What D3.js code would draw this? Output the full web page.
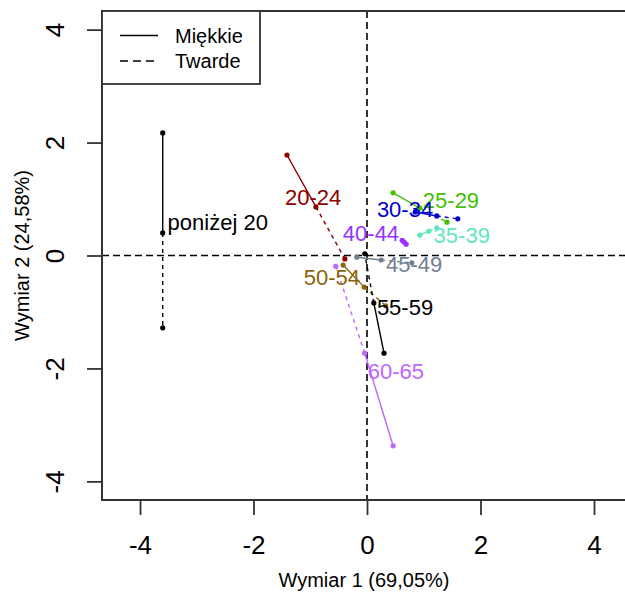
<!DOCTYPE html>
<html>
<head>
<meta charset="utf-8">
<script src="https://cdn.jsdelivr.net/npm/d3@7"></script>
<style>
  html, body { margin: 0; padding: 0; background: #fff; }
  svg { display: block; font-family: "Liberation Sans", Arial, sans-serif; }
</style>
</head>
<body>
<svg id="chart" width="625" height="594"></svg>
<script>
// ---- data ----
const groups = ["poniżej 20", "20-24", "25-29", "30-34", "35-39", "40-44", "45-49", "50-54", "55-59", "60-65"];
const colors = ["#000000", "#8B0000", "#44C000", "#0000CD", "#5EE8C0", "#9933FF", "#708090", "#8B6508", "#000000", "#C066FF"];
// central (labelled) point of each age group
const midX = [-3.60, -0.90, 0.93, 1.23, 1.09, 0.65, 0.25, -0.05, 0.12, -0.04];
const midY = [0.40, 0.86, 0.84, 0.70, 0.43, 0.24, -0.08, -0.56, -0.84, -1.73];
// "Miękkie" end (solid segment)
const miekX = [-3.60, -1.41, 0.46, 0.85, 0.93, 0.62, -0.18, -0.42, 0.30, 0.46];
const miekY = [2.17, 1.78, 1.11, 0.77, 0.36, 0.27, -0.03, -0.17, -1.73, -3.37];
// "Twarde" end (dashed segment)
const twardX = [-3.60, -0.39, 1.41, 1.60, 1.23, 0.69, 0.79, 0.33, -0.04, -0.55];
const twardY = [-1.28, -0.06, 0.59, 0.65, 0.49, 0.20, -0.13, -0.89, 0.03, -0.19];
// label centres
const labelX = [-2.63, -0.95, 1.48, 0.67, 1.67, 0.07, 0.83, -0.62, 0.67, 0.51];
const labelY = [0.59, 1.04, 0.98, 0.82, 0.36, 0.40, -0.15, -0.38, -0.91, -2.05];
const xTicks = [-4, -2, 0, 2, 4];
const yTicks = [-4, -2, 0, 2, 4];
const xTitle = "Wymiar 1 (69,05%)";
const yTitle = "Wymiar 2 (24,58%)";
const legendLabels = ["Miękkie", "Twarde"];

// ---- drawing ----
const svg = d3.select("#chart");
const x = d3.scaleLinear().domain([-4.67, 4.67]).range([102, 632]);
const y = d3.scaleLinear().domain([-4.33, 4.33]).range([500, 11]);

const axisColor = "#333";
const fmt = d => String(d); // plain hyphen-minus like the reference

// reference lines
svg.append("line").attr("x1", x(0)).attr("x2", x(0)).attr("y1", y(4.33)).attr("y2", y(-4.33))
  .attr("stroke", "#000").attr("stroke-width", 1.6).attr("stroke-dasharray", "7,4");
svg.append("line").attr("x1", x(-4.67)).attr("x2", x(4.67)).attr("y1", y(0)).attr("y2", y(0))
  .attr("stroke", "#000").attr("stroke-width", 1.6).attr("stroke-dasharray", "7,4");

// axes ticks
const gx = svg.append("g").attr("transform", `translate(0,${y(-4.33)})`)
  .call(d3.axisBottom(x).tickValues(xTicks).tickSize(15).tickPadding(21).tickFormat(fmt));
const gy = svg.append("g").attr("transform", `translate(${x(-4.67)},0)`)
  .call(d3.axisLeft(y).tickValues(yTicks).tickSize(15).tickFormat(fmt));
[gx, gy].forEach(g => {
  g.select(".domain").remove();
  g.selectAll(".tick line").attr("stroke", axisColor).attr("stroke-width", 1.8);
  g.selectAll(".tick text").attr("font-size", 26).attr("fill", "#000")
    .attr("font-family", "Liberation Sans, Arial, sans-serif");
});
gy.selectAll(".tick text")
  .attr("x", null).attr("text-anchor", "middle")
  .attr("transform", "translate(-47,0) rotate(-90)")
  .attr("dy", "0.36em");

// segments
const idx = d3.range(groups.length);
svg.append("g").selectAll("line").data(idx).join("line")
  .attr("x1", i => x(midX[i])).attr("y1", i => y(midY[i]))
  .attr("x2", i => x(miekX[i])).attr("y2", i => y(miekY[i]))
  .attr("stroke", i => colors[i]).attr("stroke-width", 1.4);
svg.append("g").selectAll("line").data(idx).join("line")
  .attr("x1", i => x(midX[i])).attr("y1", i => y(midY[i]))
  .attr("x2", i => x(twardX[i])).attr("y2", i => y(twardY[i]))
  .attr("stroke", i => colors[i]).attr("stroke-width", 1.4).attr("stroke-dasharray", "4,4");

// points
const pts = svg.append("g");
[[midX, midY], [miekX, miekY], [twardX, twardY]].forEach(([px, py]) => {
  pts.append("g").selectAll("circle").data(idx).join("circle")
    .attr("cx", i => x(px[i])).attr("cy", i => y(py[i])).attr("r", 2.6)
    .attr("fill", i => colors[i]);
});

// labels
svg.append("g").selectAll("text").data(idx).join("text")
  .attr("x", i => x(labelX[i])).attr("y", i => y(labelY[i]))
  .attr("dy", "0.36em").attr("text-anchor", "middle")
  .attr("font-size", 22).attr("fill", i => colors[i])
  .text(i => groups[i]);

// plot box
svg.append("rect").attr("x", x(-4.67)).attr("y", y(4.33))
  .attr("width", x(4.67) - x(-4.67)).attr("height", y(-4.33) - y(4.33))
  .attr("fill", "none").attr("stroke", axisColor).attr("stroke-width", 2);

// legend
const lg = svg.append("g");
lg.append("rect").attr("x", x(-4.67)).attr("y", y(4.33)).attr("width", 158).attr("height", 73)
  .attr("fill", "#fff").attr("stroke", axisColor).attr("stroke-width", 1.8);
const legY = [35.5, 61];
legendLabels.forEach((lab, i) => {
  lg.append("line").attr("x1", 120).attr("x2", 158).attr("y1", legY[i]).attr("y2", legY[i])
    .attr("stroke", "#000").attr("stroke-width", 1.4)
    .attr("stroke-dasharray", i === 1 ? "8,5" : null);
  lg.append("text").attr("x", 175).attr("y", legY[i]).attr("dy", "0.36em")
    .attr("font-size", 20).attr("fill", "#000").text(lab);
});

// axis titles
svg.append("text").attr("x", 364).attr("y", 580).attr("dy", "0.36em").attr("text-anchor", "middle")
  .attr("font-size", 20).attr("fill", "#000").text(xTitle);
svg.append("text").attr("transform", `translate(22,${y(0)}) rotate(-90)`).attr("dy", "0.36em")
  .attr("text-anchor", "middle").attr("font-size", 20).attr("fill", "#000").text(yTitle);
</script>
</body>
</html>
